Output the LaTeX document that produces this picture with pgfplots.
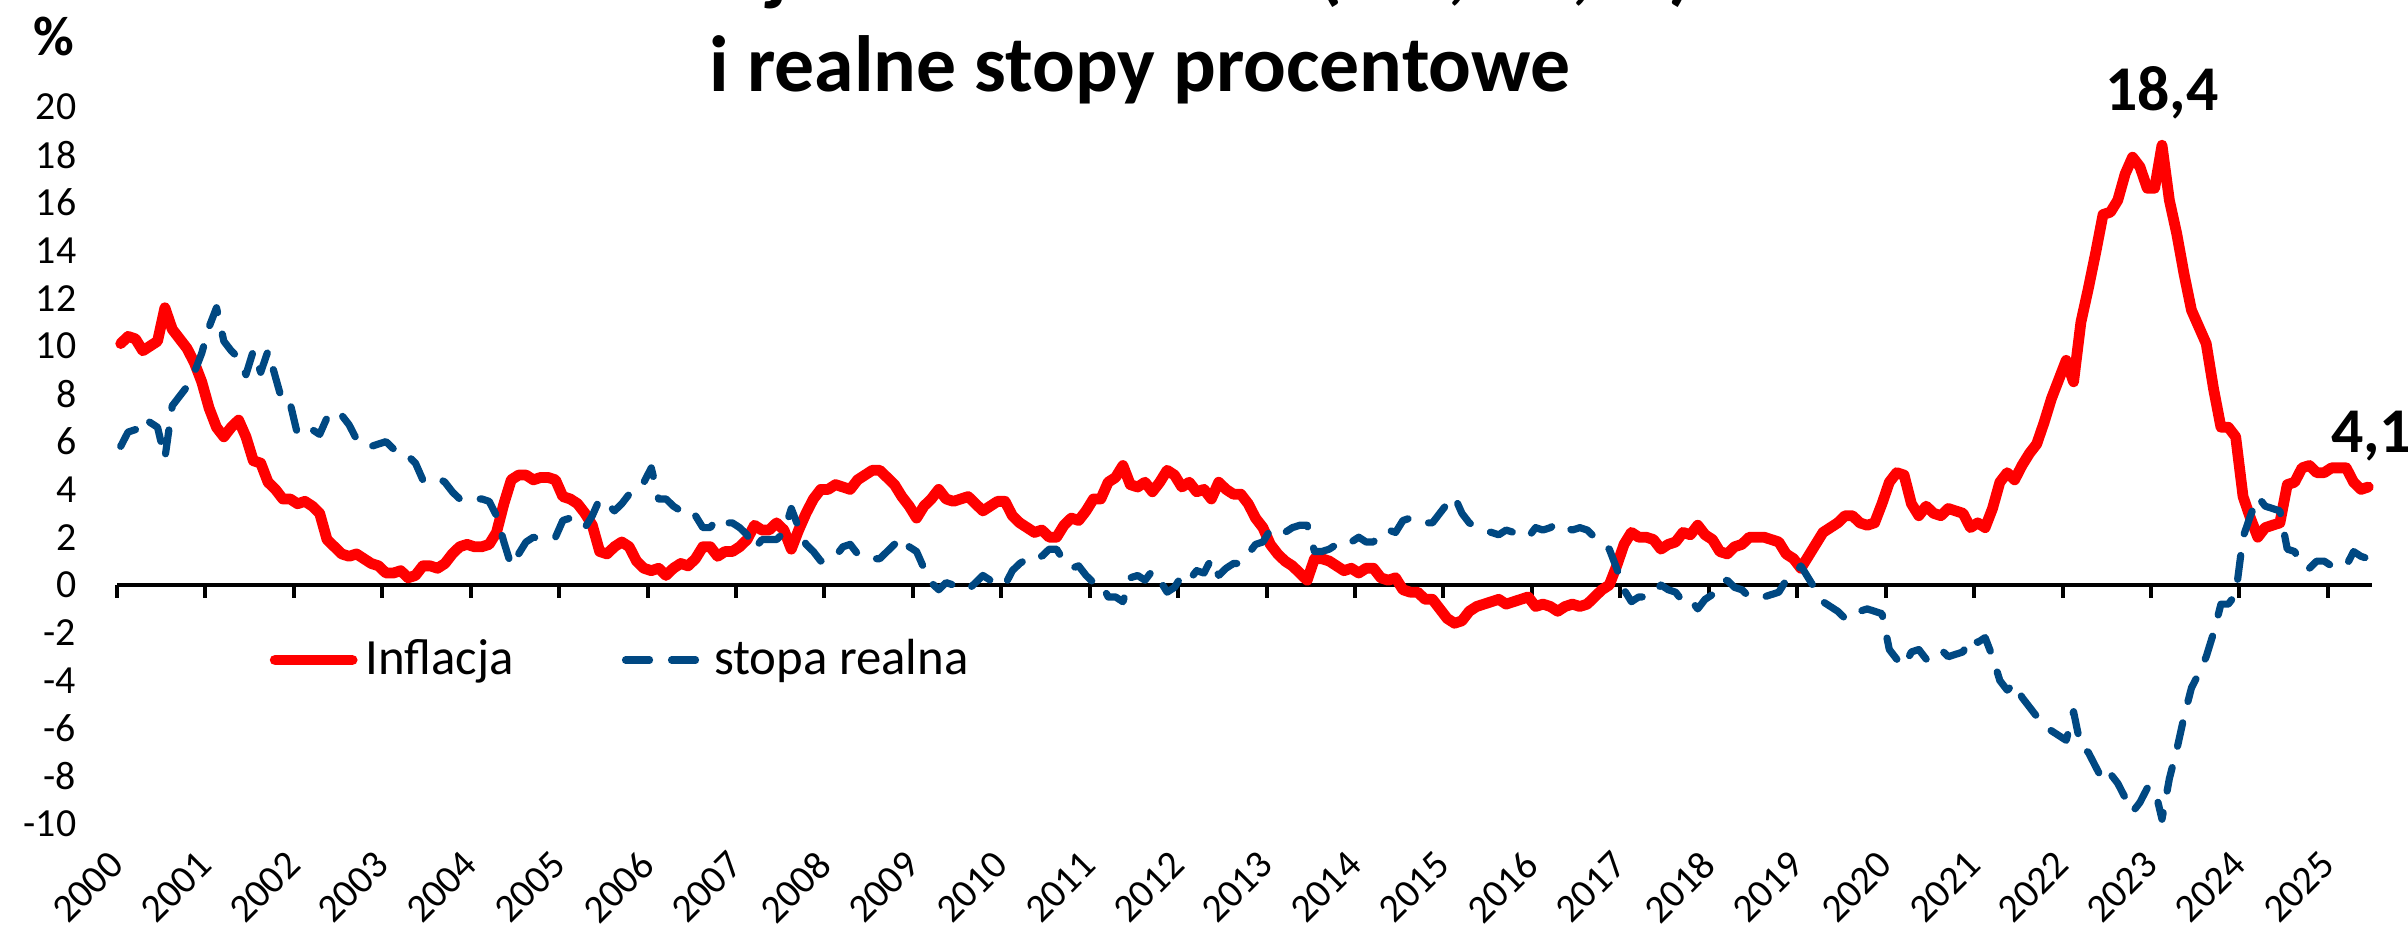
\documentclass[border=0pt]{standalone}
\usepackage{fontspec}
\setmainfont{Carlito}
\usepackage{pgfplots}
\usepackage{pgfplotstable}
\pgfplotsset{compat=1.18}
\definecolor{infred}{RGB}{255,0,0}
\definecolor{realblue}{RGB}{0,72,130}

\pgfplotstableread{
cpi real
10.1 5.8
10.4 6.4
10.3 6.5
9.8 7.0
10.0 6.8
10.2 6.6
11.6 5.3
10.7 7.5
10.3 7.9
9.9 8.3
9.3 8.9
8.5 9.7
7.4 10.8
6.6 11.6
6.2 10.2
6.6 9.8
6.9 9.5
6.2 8.8
5.2 9.8
5.1 8.9
4.3 9.8
4.0 8.7
3.6 7.6
3.6 7.6
3.4 6.3
3.5 6.3
3.3 6.5
3.0 6.3
1.9 7.0
1.6 6.8
1.3 7.1
1.2 6.7
1.3 6.1
1.1 5.8
0.9 5.8
0.8 5.9
0.5 6.0
0.5 5.7
0.6 5.4
0.3 5.4
0.4 5.1
0.8 4.4
0.8 4.4
0.7 4.5
0.9 4.3
1.3 3.9
1.6 3.6
1.7 3.5
1.6 3.6
1.6 3.6
1.7 3.5
2.2 2.9
3.4 1.8
4.4 0.8
4.6 1.3
4.6 1.8
4.4 2.0
4.5 1.9
4.5 1.9
4.4 2.0
3.7 2.7
3.6 2.8
3.4 2.5
3.0 2.4
2.5 2.9
1.4 3.6
1.3 3.4
1.6 3.1
1.8 3.4
1.6 3.8
1.0 4.2
0.7 4.3
0.6 4.9
0.7 3.6
0.4 3.6
0.7 3.3
0.9 3.1
0.8 3.2
1.1 2.9
1.6 2.4
1.6 2.4
1.2 2.8
1.4 2.6
1.4 2.6
1.6 2.4
1.9 2.1
2.5 1.5
2.3 1.9
2.3 1.9
2.6 1.9
2.3 2.2
1.5 3.2
2.3 2.4
3.0 1.7
3.6 1.4
4.0 1.0
4.0 1.2
4.2 1.2
4.1 1.6
4.0 1.7
4.4 1.3
4.6 1.3
4.8 1.1
4.8 1.1
4.5 1.4
4.2 1.7
3.7 2.0
3.3 1.6
2.8 1.4
3.3 0.7
3.6 0.1
4.0 -0.2
3.6 0.1
3.5 0.0
3.6 -0.1
3.7 -0.2
3.4 0.1
3.1 0.4
3.3 0.2
3.5 0.0
3.5 0.0
2.9 0.6
2.6 0.9
2.4 1.1
2.2 1.3
2.3 1.2
2.0 1.5
2.0 1.5
2.5 1.0
2.8 0.7
2.7 0.8
3.1 0.4
3.6 0.1
3.6 0.1
4.3 -0.5
4.5 -0.5
5.0 -0.7
4.2 0.3
4.1 0.4
4.3 0.2
3.9 0.6
4.3 0.2
4.8 -0.3
4.6 -0.1
4.1 0.4
4.3 0.2
3.9 0.6
4.0 0.5
3.6 1.1
4.3 0.4
4.0 0.7
3.8 0.9
3.8 0.9
3.4 1.3
2.8 1.7
2.4 1.8
1.7 2.3
1.3 2.4
1.0 2.2
0.8 2.4
0.5 2.5
0.2 2.5
1.1 1.4
1.1 1.4
1.0 1.5
0.8 1.7
0.6 1.9
0.7 1.8
0.5 2.0
0.7 1.8
0.7 1.8
0.3 2.2
0.2 2.3
0.3 2.2
-0.2 2.7
-0.3 2.8
-0.3 2.8
-0.6 2.6
-0.6 2.6
-1.0 3.0
-1.4 3.4
-1.6 3.7
-1.5 3.0
-1.1 2.6
-0.9 2.4
-0.8 2.3
-0.7 2.2
-0.6 2.1
-0.8 2.3
-0.7 2.2
-0.6 2.1
-0.5 2.0
-0.9 2.4
-0.8 2.3
-0.9 2.4
-1.1 2.6
-0.9 2.4
-0.8 2.3
-0.9 2.4
-0.8 2.3
-0.5 2.0
-0.2 1.7
0.0 1.5
0.8 0.7
1.7 -0.2
2.2 -0.7
2.0 -0.5
2.0 -0.5
1.9 -0.4
1.5 0.0
1.7 -0.2
1.8 -0.3
2.2 -0.7
2.1 -0.6
2.5 -1.0
2.1 -0.6
1.9 -0.4
1.4 0.1
1.3 0.2
1.6 -0.1
1.7 -0.2
2.0 -0.5
2.0 -0.5
2.0 -0.5
1.9 -0.4
1.8 -0.3
1.3 0.2
1.1 0.4
0.7 0.8
1.2 0.3
1.7 -0.2
2.2 -0.7
2.4 -0.9
2.6 -1.1
2.9 -1.4
2.9 -1.4
2.6 -1.1
2.5 -1.0
2.6 -1.1
3.4 -1.2
4.3 -2.7
4.7 -3.1
4.6 -3.4
3.4 -2.8
2.9 -2.7
3.3 -3.1
3.0 -2.8
2.9 -2.7
3.2 -3.0
3.1 -2.9
3.0 -2.8
2.4 -2.2
2.6 -2.4
2.4 -2.2
3.2 -3.0
4.3 -4.0
4.7 -4.4
4.4 -4.1
5.0 -4.7
5.5 -5.1
5.9 -5.5
6.8 -5.9
7.8 -6.1
8.6 -6.3
9.4 -6.5
8.5 -5.3
11.0 -6.8
12.4 -7.0
13.9 -7.6
15.5 -8.2
15.6 -7.9
16.1 -8.3
17.2 -8.9
17.9 -9.5
17.5 -9.1
16.6 -8.5
16.6 -8.5
18.4 -9.8
16.1 -8.1
14.7 -6.9
13.0 -5.5
11.5 -4.3
10.8 -3.7
10.1 -3.0
8.2 -2.0
6.6 -0.8
6.6 -0.8
6.2 -0.4
3.7 2.0
2.8 2.9
2.0 3.7
2.4 3.3
2.5 3.2
2.6 3.1
4.2 1.5
4.3 1.4
4.9 0.8
5.0 0.7
4.7 1.0
4.7 1.0
4.9 0.8
4.9 0.8
4.9 0.8
4.3 1.4
4.0 1.2
4.1 1.1
}\data

\begin{document}
\begin{tikzpicture}
\path[use as bounding box] (0bp,0bp) rectangle (602bp,234.25bp);
\node[anchor=base, font=\bfseries\fontsize{20}{24}\selectfont, inner sep=0pt] at (285bp,235.25bp) {Inflacja konsumencka (CPI, r/r, \%)};
\node[anchor=base, font=\bfseries\fontsize{20}{24}\selectfont, inner sep=0pt] at (285bp,211.25bp) {i realne stopy procentowe};
\node[font=\bfseries\fontsize{14}{16}\selectfont, inner sep=0pt] at (13.5bp,225bp) {\%};
\begin{axis}[
  at={(29.25bp,28.25bp)}, anchor=south west, scale only axis,
  width=563.75bp, height=179.25bp,
  xmin=-0.5, xmax=305.5, ymin=-10, ymax=20,
  axis line style={draw=none},
  major tick length=0pt, tick style={draw=none},
  ytick={-10,-8,...,20},
  xtick={-0.5,11.5,...,299.5},
  xticklabels={2000,2001,2002,2003,2004,2005,2006,2007,2008,2009,2010,2011,2012,2013,2014,2015,2016,2017,2018,2019,2020,2021,2022,2023,2024,2025},
  /pgf/number format/assume math mode=true,
  yticklabel style={font=\fontsize{10}{12}\selectfont, anchor=east, inner sep=0pt, xshift=-10bp},
  xticklabel style={font=\fontsize{10}{12}\selectfont, yshift=-8.5bp, rotate=45, anchor=east, inner sep=0pt},
  clip=false,
  legend columns=2,
  legend style={at={(0.0674,0.2287)}, anchor=west, draw=none, fill=none, inner sep=0pt,
    font=\fontsize{12.75}{15}\selectfont,
    /tikz/every even column/.append style={column sep=25bp}},
  legend image code/.code={\draw[#1] (0bp,0bp) -- (19.25bp,0bp);},
]
\draw[line width=1.2bp, black] (axis cs:-0.5,0) -- (axis cs:305.5,0);
\pgfplotsinvokeforeach{0,...,25}{
  \draw[line width=1bp, black] (axis cs:-0.5+12*#1,0) -- ([yshift=-3.3bp]axis cs:-0.5+12*#1,0);
}
\addplot[infred, line width=2.7bp, line join=round, line cap=round] table[x expr=\coordindex, y=cpi] {\data};
\addlegendentry{Inflacja}
\addplot[realblue, line width=1.8bp, dash pattern=on 6bp off 5.5bp, line cap=round, line join=round] table[x expr=\coordindex, y=real] {\data};
\addlegendentry{stopa realna}
\node[anchor=base, font=\bfseries\fontsize{16}{19}\selectfont, inner sep=0pt, yshift=8.75bp] at (axis cs:277,18.4) {18,4};
\node[anchor=base west, font=\bfseries\fontsize{16}{19}\selectfont, inner sep=0pt, xshift=-9.5bp, yshift=8.75bp] at (axis cs:305,4.1) {4,1};
\end{axis}
\end{tikzpicture}
\end{document}
